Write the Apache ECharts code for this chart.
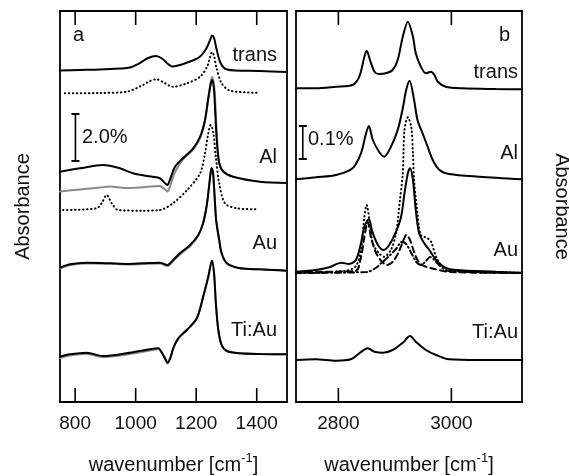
<!DOCTYPE html>
<html>
<head>
<meta charset="utf-8">
<script src="https://cdn.jsdelivr.net/npm/echarts@6/dist/echarts.min.js"></script>
<style>
  html, body { margin: 0; padding: 0; background: #fff; }
  #chart { width: 569px; height: 476px; }
</style>
</head>
<body>
<div id="chart"></div>
<script>
// ---- panel a: 750-1500 cm-1, absorbance in arbitrary offset units ----
const ticksA = [800, 1000, 1200, 1400];
const transA = [[750,331.5],[816,332],[882,332.5],[948,333.5],[981,334.5],[1014,339],[1041,344],[1067,346],[1087,343.5],[1107,338],[1120,335.5],[1140,336.5],[1166,339],[1193,342],[1213,345.5],[1226,350],[1236,355],[1246,362],[1252,366.5],[1259,364],[1265,356],[1272,347],[1279,340],[1289,335],[1302,332.5],[1328,331.5],[1411,331],[1500,330]];
const transADot = [[766,308.7],[882,309],[971,310.3],[1024,317],[1047,321],[1069,322.7],[1090,320],[1123,315.3],[1170,318.7],[1213,325.3],[1236,335.3],[1246,345],[1252,350],[1260,345],[1266,335.3],[1284,318.7],[1312,311.3],[1400,309.3]];
const alA = [[750,230.3],[816,233.7],[892,237],[948,233.7],[991,228.7],[1037,226],[1080,223.7],[1097,218.7],[1105,217],[1113,222],[1130,235.3],[1156,243.7],[1190,253.7],[1213,265.3],[1229,282],[1239,302],[1248,318],[1253,322],[1259,312],[1262,295.3],[1268,262],[1276,239],[1290,230.3],[1322,225.3],[1411,220.3],[1500,219]];
const alAGray = [[750,210.5],[816,212.5],[882,214.5],[915,215.5],[965,214],[1014,214.5],[1080,216],[1095,213],[1105,210.5],[1113,215],[1130,230],[1156,242.5],[1190,252.5],[1213,264],[1229,281],[1239,301],[1248,320],[1253,325],[1259,317],[1264,294],[1269,262],[1276,239],[1290,230.3],[1322,225.3]];
const alADot = [[760,192],[871,193.7],[888,199],[904,207],[921,198.7],[942,192],[1024,191.3],[1080,192],[1123,198.7],[1170,212],[1213,228.7],[1229,248.7],[1240,268.7],[1248,277],[1256,270.3],[1265,245.3],[1276,218.7],[1295,198.7],[1334,193.7],[1400,192.7]];
const auA = [[750,134.3],[783,137.7],[838,139.3],[915,138.7],[970,138],[1025,138.7],[1080,139.3],[1105,137],[1124,142],[1146,148.7],[1180,157],[1207,167],[1223,179],[1235,197],[1243,217],[1248,230],[1251,234],[1256,228],[1259,215],[1265,185],[1268,177],[1276,162],[1284,148.7],[1301,138.7],[1345,133.7],[1411,132.7],[1460,132],[1500,131.3]];
const auAGray = [[750,133.5],[783,137],[838,138.5],[915,138.2],[970,137.5],[1025,138],[1080,138.6],[1105,136],[1124,141],[1146,147.5],[1180,156],[1207,166.5],[1223,179],[1235,197],[1243,217],[1248,230],[1251,234],[1256,228],[1259,215],[1265,185],[1268,177],[1276,162],[1284,148.7],[1301,138.7],[1345,133.7],[1411,132.7],[1500,131.3]];
const tiauA = [[750,45.3],[783,47.7],[838,49.3],[892,46],[970,48.7],[1047,52.7],[1075,53.7],[1085,50.3],[1097,43.7],[1105,39.3],[1116,45.3],[1124,53.7],[1141,63.7],[1169,72],[1202,83.7],[1223,105.3],[1240,125.3],[1252,141.3],[1259,128.7],[1265,98.7],[1273,72],[1284,57],[1301,51],[1345,48.7],[1411,48],[1500,47.7]];
const tiauAGray = [[750,44],[783,46.5],[838,48],[892,45],[970,47.5],[1047,51.5],[1075,53],[1085,49.5],[1097,43],[1105,38.5],[1116,45],[1124,53.7],[1141,63.7],[1169,72],[1202,83.7],[1223,105.3],[1240,125.3],[1252,141.3],[1259,128.7],[1265,98.7],[1273,72],[1284,57],[1301,51],[1345,48.7],[1411,48],[1500,47.7]];
const barA = [[801,241],[801,288]];

// ---- panel b: 2725-3125 cm-1 ----
const ticksB = [2800, 3000];
const transB = [[2725,313.7],[2760,313.7],[2796,315.3],[2825,317],[2837,325.3],[2846,345.3],[2850,351.3],[2856,342],[2864,330.3],[2872,328],[2884,328.7],[2896,332],[2905,342],[2914,365.3],[2923,380.3],[2932,365.3],[2937,348.7],[2946,335.3],[2955,328.7],[2964,330.3],[2970,327],[2976,320.3],[2990,315.3],[3020,313.7],[3079,313],[3125,312.7]];
const alB = [[2725,222.7],[2760,224.7],[2796,227],[2825,233.7],[2840,248.7],[2849,268.7],[2854,276],[2861,262],[2872,250.3],[2881,245.3],[2893,255.3],[2905,272],[2914,293.7],[2920,312],[2926,321.3],[2934,302],[2940,282],[2949,268.7],[2958,255.3],[2967,242],[2979,232],[2996,228],[3049,225.3],[3125,222.7]];
const auB = [[2725,130.3],[2760,132],[2784,134.7],[2805,139.3],[2819,138],[2831,142],[2840,158.7],[2846,175.3],[2854,182.7],[2860,170.3],[2870,157],[2880,152],[2890,157],[2902,170.3],[2911,185.3],[2917,208.7],[2923,228.7],[2927,233.7],[2932,222],[2937,192],[2943,168.7],[2952,158.7],[2961,152],[2973,142],[2988,134.7],[3008,132],[3079,130.3],[3125,129.3]];
const auBDot = [[2725,128.7],[2814,131.3],[2831,136],[2840,152],[2846,185.3],[2850,197],[2855,182],[2861,158.7],[2872,148.7],[2881,145.3],[2893,152],[2902,168.7],[2909,202],[2914,228.7],[2917,272],[2923,284.7],[2929,275.3],[2932,248.7],[2934,222],[2940,188.7],[2946,167],[2958,163.7],[2964,160.3],[2973,145.3],[2985,135.3],[3008,131],[3125,129.3]];
const auBDash = [[2725,130],[2830,131],[2840,145],[2846,165],[2852,180],[2858,164],[2866,150],[2876,141],[2886,137],[2896,140],[2906,149],[2914,160],[2920,167],[2926,163],[2934,150],[2942,140],[2952,136],[2970,133],[3000,130],[3125,129]];
const auBDashDot = [[2725,129],[2850,130],[2866,134],[2878,140],[2890,146],[2902,153],[2912,160],[2920,158],[2930,148],[2938,140],[2946,137],[2955,141],[2962,145],[2970,142],[2980,136],[2995,131],[3125,129]];
const tiauB = [[2725,42],[2760,42.7],[2796,41.3],[2822,42.7],[2837,48.7],[2852,53.7],[2864,50.3],[2879,49.3],[2896,52],[2914,59.3],[2927,66],[2937,60.3],[2955,52],[2973,47],[2996,42.7],[3049,42],[3125,42]];
const barB = [[2737,243],[2737,276]];

const Y_MAX = 391;
const TICK_LEN = 14;
const FONT = '"Liberation Sans", Arial, sans-serif';
const INK = '#111';

const chart = echarts.init(document.getElementById('chart'));

function xAxis(grid, min, max, ticks) {
  return {
    type: 'value', gridIndex: grid, min: min, max: max, position: 'bottom',
    axisLine: { show: false },
    splitLine: { show: false },
    axisTick: { show: false },
    axisLabel: { customValues: ticks, formatter: v => String(v), fontSize: 19, fontFamily: FONT, color: INK, margin: 12 },
    name: '{n|wavenumber [cm}{s|-1}{n|]}',
    nameLocation: 'middle', nameGap: 50,
    nameTextStyle: {
      rich: {
        n: { fontSize: 20, fontFamily: FONT, color: INK },
        s: { fontSize: 13, fontFamily: FONT, color: INK, padding: [0, 0, 14, 0] }
      }
    }
  };
}

function line(data, xi, yi, color, type, z) {
  return {
    type: 'line', data: data, xAxisIndex: xi, yAxisIndex: yi,
    showSymbol: false, smooth: 0.3, z: z || 2,
    lineStyle: { color: color, width: 2, type: type || 'solid', cap: 'round' }
  };
}

function scaleBar(data, xi, yi) {
  return {
    type: 'line', data: data, xAxisIndex: xi, yAxisIndex: yi,
    symbol: 'rect', symbolSize: [8, 2], showSymbol: true,
    itemStyle: { color: '#000' },
    lineStyle: { color: '#000', width: 1.6 }
  };
}

function label(text, x, y, align) {
  return {
    type: 'text', x: x, y: y,
    style: {
      text: text, fill: INK, font: '20px ' + FONT,
      align: align || 'right', verticalAlign: 'middle',
      textAlign: align || 'right', textVerticalAlign: 'middle'
    }
  };
}

const dotted = [0.5, 3.5];

const labels = [
  label('a', 73, 35, 'left'),
  label('trans', 277, 55),
  label('Al', 277, 157),
  label('Au', 277, 243),
  label('Ti:Au', 277, 330),
  label('2.0%', 82, 137, 'left'),
  label('b', 510, 35),
  label('trans', 518, 72),
  label('Al', 518, 153),
  label('Au', 518, 250),
  label('Ti:Au', 518, 332),
  label('0.1%', 308, 139, 'left')
];

chart.setOption({
  animation: false,
  grid: [
    { left: 60, top: 11, width: 227, height: 391, show: true, borderColor: '#000', borderWidth: 1.8, outerBoundsMode: 'none', containLabel: false },
    { left: 296, top: 11, width: 226, height: 391, show: true, borderColor: '#000', borderWidth: 1.8, outerBoundsMode: 'none', containLabel: false }
  ],
  xAxis: [xAxis(0, 750, 1500, ticksA), xAxis(1, 2725, 3125, ticksB)],
  yAxis: [
    {
      type: 'value', gridIndex: 0, min: 0, max: Y_MAX, position: 'left',
      axisLine: { show: false }, axisTick: { show: false }, axisLabel: { show: false }, splitLine: { show: false },
      name: 'Absorbance', nameLocation: 'middle', nameGap: 27, nameRotate: 90,
      nameTextStyle: { fontSize: 20, fontFamily: FONT, color: INK }
    },
    {
      type: 'value', gridIndex: 1, min: 0, max: Y_MAX, position: 'right',
      axisLine: { show: false }, axisTick: { show: false }, axisLabel: { show: false }, splitLine: { show: false },
      name: 'Absorbance', nameLocation: 'middle', nameGap: 30, nameRotate: -90,
      nameTextStyle: { fontSize: 20, fontFamily: FONT, color: INK }
    }
  ],
  series: [
    line(transADot, 0, 0, '#000', dotted),
    line(transA, 0, 0, '#000'),
    line(alADot, 0, 0, '#000', dotted),
    line(alAGray, 0, 0, '#8a8a8a'),
    line(alA, 0, 0, '#000', 'solid', 3),
    line(auAGray, 0, 0, '#8a8a8a'),
    line(auA, 0, 0, '#000', 'solid', 3),
    line(tiauAGray, 0, 0, '#8a8a8a'),
    line(tiauA, 0, 0, '#000', 'solid', 3),
    scaleBar(barA, 0, 0),

    line(transB, 1, 1, '#000'),
    line(alB, 1, 1, '#000'),
    line(auBDash, 1, 1, '#000', [6, 4]),
    line(auBDashDot, 1, 1, '#000', [6, 3, 1, 3]),
    line(auBDot, 1, 1, '#000', dotted),
    line(auB, 1, 1, '#000', 'solid', 3),
    line(tiauB, 1, 1, '#000'),
    scaleBar(barB, 1, 1)
  ],
  graphic: labels
});

// inward tick marks on the bottom and top frame edges, placed via the x scales
function tickGraphics(ticks, xi, yi) {
  const out = [];
  ticks.forEach(t => {
    const bot = chart.convertToPixel({ xAxisIndex: xi, yAxisIndex: yi }, [t, 0]);
    const top = chart.convertToPixel({ xAxisIndex: xi, yAxisIndex: yi }, [t, Y_MAX]);
    out.push({ type: 'line', z: 100, shape: { x1: bot[0], y1: bot[1], x2: bot[0], y2: bot[1] - TICK_LEN }, style: { stroke: '#000', lineWidth: 1.6 } });
    out.push({ type: 'line', z: 100, shape: { x1: top[0], y1: top[1], x2: top[0], y2: top[1] + TICK_LEN }, style: { stroke: '#000', lineWidth: 1.6 } });
  });
  return out;
}

chart.setOption({
  graphic: labels.concat(tickGraphics(ticksA, 0, 0), tickGraphics(ticksB, 1, 1))
});
</script>
</body>
</html>
